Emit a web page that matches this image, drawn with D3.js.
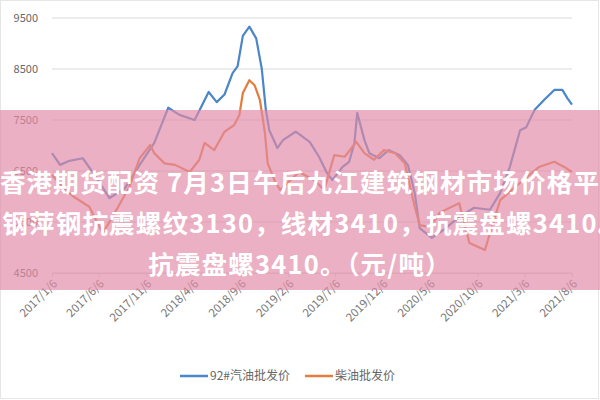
<!DOCTYPE html>
<html><head><meta charset="utf-8">
<script src="https://cdn.jsdelivr.net/npm/d3@7"></script>
<style>body{margin:0;background:#fff}text{font-family:"Noto Sans CJK SC","Noto Sans",sans-serif}</style>
</head><body><svg id="c" width="600" height="400"></svg>
<script>
const xTicks = ["2017-01-06","2017-06-06","2017-11-06","2018-04-06","2018-09-06","2019-02-06","2019-07-06","2019-12-06","2020-05-06","2020-10-06","2021-03-06","2021-08-06"];
const yTicks = [4500, 5500, 6500, 7500, 8500, 9500];

const gasDates = ["2017-01-06","2017-02-01","2017-03-03","2017-04-15","2017-05-20","2017-07-10","2017-08-27","2017-10-15","2017-12-01","2018-01-15","2018-02-20","2018-04-10","2018-05-25","2018-06-20","2018-07-15","2018-08-10","2018-08-26","2018-09-12","2018-10-03","2018-10-25","2018-11-12","2018-11-25","2018-12-06","2019-01-01","2019-01-20","2019-03-01","2019-04-15","2019-05-15","2019-06-08","2019-06-27","2019-07-30","2019-08-20","2019-09-06","2019-09-15","2019-10-08","2019-10-24","2019-11-25","2019-12-25","2020-01-30","2020-02-25","2020-03-18","2020-04-03","2020-05-12","2020-06-20","2020-08-08","2020-09-25","2020-11-15","2020-12-18","2021-01-18","2021-02-20","2021-03-12","2021-04-08","2021-05-08","2021-06-10","2021-07-06","2021-07-22","2021-08-06"];
const gasValues = [6850,6620,6700,6750,6450,5970,6150,6620,7050,7740,7600,7500,8050,7850,8000,8420,8550,9150,9330,9100,8500,7700,7300,6950,7110,7270,7070,6780,6480,6320,6580,6680,7050,7640,7110,6850,6750,6910,6810,6620,6070,5380,5190,5350,5600,5780,5740,6070,6580,7300,7360,7700,7890,8090,8090,7930,7800];

const dieselDates = ["2017-01-06","2017-02-18","2017-03-18","2017-05-06","2017-06-18","2017-07-27","2017-09-12","2017-10-15","2017-11-18","2017-12-01","2018-01-03","2018-02-06","2018-03-25","2018-04-25","2018-05-12","2018-06-12","2018-07-15","2018-08-15","2018-09-01","2018-09-12","2018-10-03","2018-10-20","2018-11-06","2018-11-22","2018-12-01","2018-12-25","2019-01-10","2019-03-12","2019-04-30","2019-06-01","2019-07-03","2019-08-06","2019-09-12","2019-10-08","2019-11-08","2019-12-10","2020-01-15","2020-02-15","2020-03-18","2020-04-03","2020-05-06","2020-06-06","2020-08-08","2020-09-10","2020-10-30","2020-11-15","2020-12-18","2021-02-20","2021-04-22","2021-06-10","2021-07-12","2021-08-06"];
const dieselValues = [6420,6130,5990,5800,5280,5680,6190,6750,7010,6850,6650,6620,6480,6720,7050,6910,7270,7400,7600,8030,8280,8180,7890,7250,6650,6290,6130,6480,6320,6130,6810,6780,7070,6850,6720,6910,6850,6650,5800,5440,5400,5680,5870,5090,4950,5280,5930,6270,6580,6680,6580,6480];

const seriesNames = ["92#汽油批发价", "柴油批发价"];
const colors = ["#4a86c8", "#e47c3c"];
const overlayLines = ["香港期货配资 7月3日午后九江建筑钢材市场价格平", "南钢萍钢抗震螺纹3130，线材3410，抗震盘螺3410。", "抗震盘螺3410。（元/吨）"];

const parse = d3.timeParse("%Y-%m-%d");
const svg = d3.select("#c");
const x = d3.scaleTime().domain([parse(xTicks[0]), parse(xTicks[xTicks.length - 1])]).range([52, 572]);
const y = d3.scaleLinear().domain([4500, 9500]).range([273, 18]);

svg.append("rect").attr("x", 0.5).attr("y", 0.5).attr("width", 598).attr("height", 398)
  .attr("fill", "#fff").attr("stroke", "#e6e6e6");

svg.append("g").selectAll("line").data(yTicks).join("line")
  .attr("x1", 52).attr("x2", 572).attr("y1", d => y(d)).attr("y2", d => y(d))
  .attr("stroke", "#d9d9d9");
svg.append("g").selectAll("text").data(yTicks).join("text")
  .attr("x", 38).attr("y", d => y(d) + 4).attr("text-anchor", "end")
  .attr("font-size", 11).attr("fill", "#666").text(d => d);

const xg = svg.append("g").attr("transform", "translate(0,273)")
  .call(d3.axisBottom(x).tickValues(xTicks.map(parse)).tickSize(4).tickFormat(d3.timeFormat("%Y/%-m/%-d")));
xg.select(".domain").attr("stroke", "#d9d9d9");
xg.selectAll(".tick line").attr("stroke", "#d9d9d9");
xg.selectAll("text").attr("font-size", 11.5).attr("fill", "#777")
  .attr("text-anchor", "end").attr("transform", "translate(-2,4) rotate(-45)").attr("dy", "0.3em");

const line = d3.line().x(d => x(d[0])).y(d => y(d[1]));
const data = [
  gasDates.map((d, i) => [parse(d), gasValues[i]]),
  dieselDates.map((d, i) => [parse(d), dieselValues[i]])
];
data.forEach((s, i) => {
  svg.append("path").datum(s).attr("d", line).attr("fill", "none")
    .attr("stroke", colors[i]).attr("stroke-width", 2.2).attr("stroke-linejoin", "round");
});

const lg = svg.append("g");
[[180, 0], [305, 1]].forEach(([lx, i]) => {
  lg.append("line").attr("x1", lx).attr("x2", lx + 28).attr("y1", 376).attr("y2", 376)
    .attr("stroke", colors[i]).attr("stroke-width", 2.5);
  lg.append("text").attr("x", lx + 30).attr("y", 380).attr("font-size", 12)
    .attr("fill", "#666").text(seriesNames[i]);
});

svg.append("rect").attr("x", 0).attr("y", 110).attr("width", 600).attr("height", 180)
  .attr("fill", "#e28ba7").attr("opacity", 0.68);
svg.append("g").selectAll("text").data(overlayLines).join("text")
  .attr("x", 300).attr("y", (d, i) => 192 + i * 41).attr("text-anchor", "middle")
  .attr("font-size", 25.5).attr("letter-spacing", 1.2).attr("font-weight", "bold")
  .attr("fill", "#fff").text(d => d);
</script></body></html>
